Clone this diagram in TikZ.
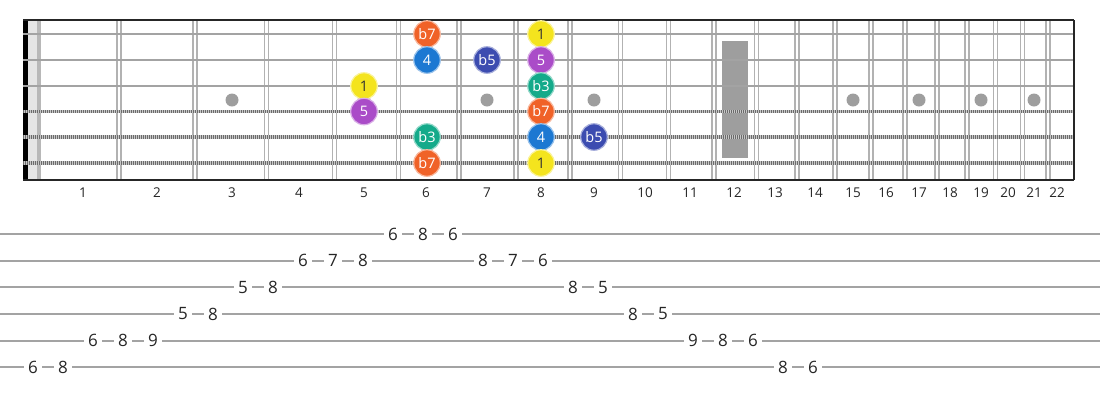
\documentclass[tikz,border=0pt]{standalone}
\usepackage{fontspec}
\setmainfont{Open Sans}
\usepackage{tikz}
\usetikzlibrary{calc}
\definecolor{degB7}{RGB}{240,98,40}
\definecolor{degOne}{RGB}{244,228,30}
\definecolor{degFour}{RGB}{28,120,210}
\definecolor{degBFive}{RGB}{60,76,176}
\definecolor{degFive}{RGB}{170,76,200}
\definecolor{degBThree}{RGB}{20,170,138}
\tikzset{
  fretline/.style={line width=1.6pt, color=black!30},
  plainstring/.style={line width=2.8pt, color=black!36},
  woundstring/.style={line width=3.6pt, color=black!58, dash pattern=on 1.1pt off 0.9pt},
  note/.style={circle, minimum size=26.5pt, inner sep=0pt, fill=#1, draw=#1!45!white,
    line width=1.2pt, text=white, font=\fontsize{14.5}{14.5}\selectfont},
  tabline/.style={line width=1.8pt, color=black!36},
  tabnum/.style={fill=white, inner xsep=4.5pt, inner ysep=1pt, font=\fontsize{17}{17}\selectfont, text=black!85},
  fretnum/.style={font=\fontsize{13.5}{13.5}\selectfont, text=black!85},
}
\def\fretwire(#1){\draw[fretline] (#1,20) -- (#1,180); \draw[fretline] ({#1+4},20) -- ({#1+4},180);}
\def\inlay(#1){\fill[black!38] (#1,100) circle (6.5);}

\begin{document}
\begin{tikzpicture}[x=1pt, y=-1pt]
			%%%%% START %%%%%
			\useasboundingbox (0, 0) rectangle (1100, 400);
			
			% nut
			\fill[black!10] (28, 20) rectangle (37, 180);
			\fill[black!28] (37, 20) rectangle (41, 180);
			\fill[black] (23, 20) rectangle (28, 180);
			
			% position marks
			\inlay(232) \inlay(364) \inlay(487) \inlay(594)
			\inlay(853) \inlay(919) \inlay(981) \inlay(1034)
			\fill[black!38] (722, 41) rectangle (748, 158);
			
			% frets
			\fretwire(116.7) \fretwire(192.8) \fretwire(264.6) \fretwire(332.5)
			\fretwire(396.5) \fretwire(456.9) \fretwire(513.9) \fretwire(567.7)
			\fretwire(618.6) \fretwire(666.5) \fretwire(711.8) \fretwire(754.5)
			\fretwire(794.8) \fretwire(832.9) \fretwire(868.8) \fretwire(902.7)
			\fretwire(934.7) \fretwire(964.9) \fretwire(993.5) \fretwire(1020.4)
			\fretwire(1045.8)
			
			% strings
			\draw[plainstring] (23, 34) -- (1074, 34);
			\draw[plainstring] (23, 60) -- (1074, 60);
			\draw[plainstring] (23, 86) -- (1074, 86);
			\draw[line width=3.6pt, color=black!22] (23, 111.5) -- (1074, 111.5);
			\draw[woundstring] (23, 111.5) -- (1074, 111.5);
			\draw[line width=3.6pt, color=black!22] (23, 137) -- (1074, 137);
			\draw[woundstring] (23, 137) -- (1074, 137);
			\draw[line width=3.6pt, color=black!22] (23, 163) -- (1074, 163);
			\draw[woundstring] (23, 163) -- (1074, 163);
			
			% border
			\draw[line width=2pt, color=black!85] (23, 20) -- (1074, 20);
			\draw[line width=2pt, color=black!85] (23, 180) -- (1074, 180);
			\draw[line width=2pt, color=black!85] (1074, 20) -- (1074, 180);
			
			% fret numbers
			\node[fretnum] (n1) at (83, 193) {1};
			\node[fretnum] (n2) at (157, 193) {2};
			\node[fretnum] (n3) at (232, 193) {3};
			\node[fretnum] (n4) at (299, 193) {4};
			\node[fretnum] (n5) at (364, 193) {5};
			\node[fretnum] (n6) at (426, 193) {6};
			\node[fretnum] (n7) at (487, 193) {7};
			\node[fretnum] (n8) at (541, 193) {8};
			\node[fretnum] (n9) at (594, 193) {9};
			\node[fretnum] (n10) at (645, 193) {10};
			\node[fretnum] (n11) at (690, 193) {11};
			\node[fretnum] (n12) at (734, 193) {12};
			\node[fretnum] (n13) at (775, 193) {13};
			\node[fretnum] (n14) at (815, 193) {14};
			\node[fretnum] (n15) at (853, 193) {15};
			\node[fretnum] (n16) at (886, 193) {16};
			\node[fretnum] (n17) at (919, 193) {17};
			\node[fretnum] (n18) at (950, 193) {18};
			\node[fretnum] (n19) at (981, 193) {19};
			\node[fretnum] (n20) at (1008, 193) {20};
			\node[fretnum] (n21) at (1034, 193) {21};
			\node[fretnum] (n22) at (1057, 193) {22};
			
			% scale notes
			\node[note=degB7] (s1f6) at (427, 34) {b7};
			\node[note=degOne, text=black!80] (s1f8) at (541, 34) {1};
			\node[note=degFour] (s2f6) at (427, 60) {4};
			\node[note=degBFive] (s2f7) at (487, 60) {b5};
			\node[note=degFive] (s2f8) at (541, 60) {5};
			\node[note=degOne, text=black!80] (s3f5) at (364, 86) {1};
			\node[note=degBThree] (s3f8) at (541, 86) {b3};
			\node[note=degFive] (s4f5) at (364, 111.5) {5};
			\node[note=degB7] (s4f8) at (541, 111.5) {b7};
			\node[note=degBThree] (s5f6) at (427, 137) {b3};
			\node[note=degFour] (s5f8) at (541, 137) {4};
			\node[note=degBFive] (s5f9) at (594, 137) {b5};
			\node[note=degB7] (s6f6) at (427, 163) {b7};
			\node[note=degOne, text=black!80] (s6f8) at (541, 163) {1};
			
			% tab staff
			\draw[tabline] (0, 234) -- (1100, 234);
			\draw[tabline] (0, 260.7) -- (1100, 260.7);
			\draw[tabline] (0, 287.3) -- (1100, 287.3);
			\draw[tabline] (0, 314) -- (1100, 314);
			\draw[tabline] (0, 340.7) -- (1100, 340.7);
			\draw[tabline] (0, 367.3) -- (1100, 367.3);
			
			\node[tabnum] (t1) at (33, 367.3) {6};
			\node[tabnum] (t2) at (63, 367.3) {8};
			\node[tabnum] (t3) at (93, 340.7) {6};
			\node[tabnum] (t4) at (123, 340.7) {8};
			\node[tabnum] (t5) at (153, 340.7) {9};
			\node[tabnum] (t6) at (183, 314) {5};
			\node[tabnum] (t7) at (213, 314) {8};
			\node[tabnum] (t8) at (243, 287.3) {5};
			\node[tabnum] (t9) at (273, 287.3) {8};
			\node[tabnum] (t10) at (303, 260.7) {6};
			\node[tabnum] (t11) at (333, 260.7) {7};
			\node[tabnum] (t12) at (363, 260.7) {8};
			\node[tabnum] (t13) at (393, 234) {6};
			\node[tabnum] (t14) at (423, 234) {8};
			\node[tabnum] (t15) at (453, 234) {6};
			\node[tabnum] (t16) at (483, 260.7) {8};
			\node[tabnum] (t17) at (513, 260.7) {7};
			\node[tabnum] (t18) at (543, 260.7) {6};
			\node[tabnum] (t19) at (573, 287.3) {8};
			\node[tabnum] (t20) at (603, 287.3) {5};
			\node[tabnum] (t21) at (633, 314) {8};
			\node[tabnum] (t22) at (663, 314) {5};
			\node[tabnum] (t23) at (693, 340.7) {9};
			\node[tabnum] (t24) at (723, 340.7) {8};
			\node[tabnum] (t25) at (753, 340.7) {6};
			\node[tabnum] (t26) at (783, 367.3) {8};
			\node[tabnum] (t27) at (813, 367.3) {6};
			
			%%%%% END %%%%%
		\end{tikzpicture}
\end{document}
